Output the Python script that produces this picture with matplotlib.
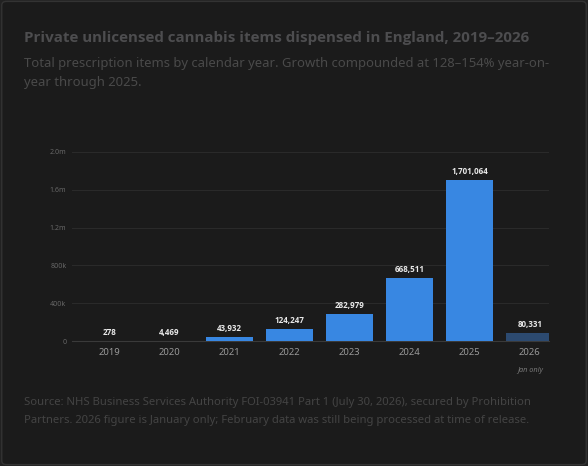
import matplotlib
matplotlib.use("Agg")
import matplotlib.pyplot as plt
from matplotlib.patches import FancyBboxPatch

## Data
years = ["2019", "2020", "2021", "2022", "2023", "2024", "2025", "2026"]
items = [278, 4469, 43932, 124247, 282979, 668511, 1701064, 80331]
partial = [False, False, False, False, False, False, False, True]
y_ticks = [0, 400000, 800000, 1200000, 1600000, 2000000]
y_tick_labels = ["0", "400k", "800k", "1.2m", "1.6m", "2.0m"]

plt.rcParams['font.family'] = ['Noto Sans', 'DejaVu Sans']

bg = "#1b1b1b"
fig = plt.figure(figsize=(5.88, 4.66), dpi=100)
fig.patch.set_facecolor("#222222")

## card with thin border
card = FancyBboxPatch((0.003, 0.003), 0.994, 0.994, boxstyle="round,pad=0,rounding_size=0.008",
                      transform=fig.transFigure, facecolor=bg, edgecolor="#333333",
                      linewidth=1.0, zorder=-5)
fig.patches.append(card)

fig.text(24/588, 1-38/466, "Private unlicensed cannabis items dispensed in England, 2019\u20132026",
         fontsize=10.9, fontweight="bold", color="#4d4d4f", va="center", ha="left",
         family=["Open Sans", "DejaVu Sans"])
fig.text(24/588, 1-63/466, "Total prescription items by calendar year. Growth compounded at 128\u2013154% year-on-",
         fontsize=9.4, color="#4a4a4a", va="center", ha="left")
fig.text(24/588, 1-83/466, "year through 2025.",
         fontsize=9.4, color="#4a4a4a", va="center", ha="left")

fig.text(24/588, 1-402/466, "Source: NHS Business Services Authority FOI-03941 Part 1 (July 30, 2026), secured by Prohibition",
         fontsize=8.1, color="#444444", va="center", ha="left")
fig.text(24/588, 1-420/466, "Partners. 2026 figure is January only; February data was still being processed at time of release.",
         fontsize=8.1, color="#444444", va="center", ha="left")

ax = fig.add_axes([72/588, 1-341/466, 477/588, 189/466])
ax.set_facecolor(bg)
ax.set_zorder(2)

x = list(range(len(years)))
colors = ["#2c4a70" if p else "#3887e2" for p in partial]
bars = ax.bar(x, items, width=0.78, color=colors, zorder=3)

for xi, v in zip(x, items):
    ax.text(xi, v + 42000, f"{v:,}", ha="center", va="bottom", fontsize=5.8,
            fontweight="bold", color="#e8e8e8", zorder=4,
            family=["Open Sans", "DejaVu Sans"])

ax.set_xlim(-0.62, 7.32)
ax.set_ylim(0, 2000000)
ax.set_yticks(y_ticks)
ax.set_yticklabels(y_tick_labels)
ax.set_xticks(x)
ax.set_xticklabels(years)
ax.tick_params(axis="y", length=0, labelsize=5.1, labelcolor="#666666", pad=4)
ax.tick_params(axis="x", length=0, labelsize=6.8, labelcolor="#999999", pad=5)
ax.grid(axis="y", color="#2a2a2a", linewidth=0.8, zorder=0)
for s in ["top", "right", "left"]:
    ax.spines[s].set_visible(False)
ax.spines["bottom"].set_color("#3a3a3a")
ax.spines["bottom"].set_linewidth(0.8)
ax.spines["bottom"].set_zorder(2)

## "Jan only" note under the partial year
for xi, p in zip(x, partial):
    if p:
        ax.annotate("Jan only", xy=(xi, 0), xytext=(0, -21), textcoords="offset points",
                    ha="center", va="center", fontsize=5.3, fontstyle="italic",
                    color="#777777", annotation_clip=False)

plt.savefig("out.png", dpi=100, facecolor=fig.get_facecolor())
